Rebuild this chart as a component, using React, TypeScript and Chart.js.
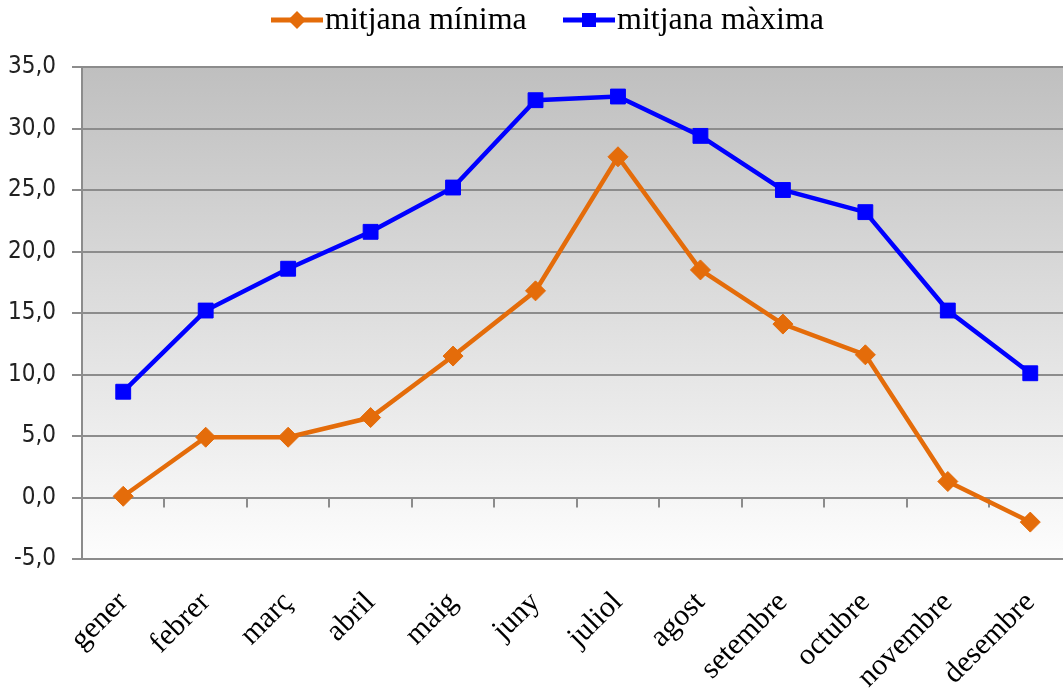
import React, { useEffect, useRef } from "react";
import { Chart, registerables } from "chart.js";

Chart.register(...registerables);

const months = ["gener", "febrer", "març", "abril", "maig", "juny", "juliol", "agost", "setembre", "octubre", "novembre", "desembre"];
const minValues = [0.1, 4.9, 4.9, 6.5, 11.5, 16.8, 27.7, 18.5, 14.1, 11.6, 1.3, -2.0];
const maxValues = [8.6, 15.2, 18.6, 21.6, 25.2, 32.3, 32.6, 29.4, 25.0, 23.2, 15.2, 10.1];
const seriesNames = ["mitjana mínima", "mitjana màxima"];
const seriesColors = ["#E46C0A", "#0000FF"];
const yMin = -5;
const yMax = 35;
const yStep = 5;

const bgPlugin = {
  id: "bgGradient",
  beforeDraw(chart: any) {
    const { ctx, chartArea } = chart;
    const g = ctx.createLinearGradient(0, chartArea.top, 0, chartArea.bottom);
    g.addColorStop(0, "#bfbfbf");
    g.addColorStop(1, "#fdfdfd");
    ctx.save();
    ctx.fillStyle = g;
    ctx.fillRect(chartArea.left, chartArea.top, chartArea.right - chartArea.left, chartArea.bottom - chartArea.top);
    ctx.restore();
  },
  beforeDatasetsDraw(chart: any) {
    const { ctx } = chart;
    const x = chart.scales.x;
    const y = chart.scales.y;
    const y0 = y.getPixelForValue(0);
    ctx.save();
    ctx.strokeStyle = "#8c8c8c";
    ctx.lineWidth = 2;
    for (let i = 1; i < months.length; i++) {
      const px = (x.getPixelForValue(i - 1) + x.getPixelForValue(i)) / 2;
      ctx.beginPath();
      ctx.moveTo(Math.round(px), y0);
      ctx.lineTo(Math.round(px), y0 + 10);
      ctx.stroke();
    }
    ctx.restore();
  },
  afterDraw(chart: any) {
    const { ctx } = chart;
    const starts = [271, 563];
    const yc = 20;
    ctx.save();
    chart.data.datasets.forEach((ds: any, i: number) => {
      const sx = starts[i];
      ctx.strokeStyle = seriesColors[i];
      ctx.lineWidth = 5;
      ctx.beginPath();
      ctx.moveTo(sx, yc);
      ctx.lineTo(sx + 52, yc);
      ctx.stroke();
      const cx = sx + 26;
      ctx.fillStyle = seriesColors[i];
      ctx.beginPath();
      if (i === 0) {
        ctx.moveTo(cx - 9, yc);
        ctx.lineTo(cx, yc - 9);
        ctx.lineTo(cx + 9, yc);
        ctx.lineTo(cx, yc + 9);
        ctx.closePath();
      } else {
        ctx.rect(cx - 7, yc - 7, 14, 14);
      }
      ctx.fill();
      ctx.fillStyle = "#000";
      ctx.font = "32px 'Liberation Serif', 'Times New Roman', serif";
      ctx.textBaseline = "middle";
      ctx.textAlign = "left";
      ctx.fillText(ds.label, sx + 54, yc + 1);
    });
    ctx.restore();
  },
};

export default function App() {
  const ref = useRef<HTMLCanvasElement>(null);
  useEffect(() => {
    if (!ref.current) return;
    const chart = new Chart(ref.current, {
      type: "line",
      data: {
        labels: months,
        datasets: [
          {
            label: seriesNames[0],
            data: minValues,
            borderColor: seriesColors[0],
            backgroundColor: seriesColors[0],
            borderWidth: 4.5,
            pointStyle: "rectRot",
            pointRadius: 10,
            pointHoverRadius: 10,
            pointBorderWidth: 1,
            tension: 0,
          },
          {
            label: seriesNames[1],
            data: maxValues,
            borderColor: seriesColors[1],
            backgroundColor: seriesColors[1],
            borderWidth: 4.5,
            pointStyle: "rect",
            pointRadius: 10.5,
            pointHoverRadius: 10.5,
            pointBorderWidth: 1,
            tension: 0,
          },
        ],
      },
      options: {
        responsive: false,
        animation: false,
        devicePixelRatio: 1,
        layout: { padding: { top: 67, left: 0, right: 0, bottom: 0 } },
        plugins: {
          legend: { display: false },
          tooltip: { enabled: false },
        },
        scales: {
          x: {
            offset: true,
            grid: { display: false, drawTicks: false },
            border: { display: true, color: "#8c8c8c", width: 2 },
            ticks: {
              autoSkip: false,
              maxRotation: 45,
              minRotation: 45,
              padding: 26,
              color: "#000",
              font: { family: "'Liberation Serif', 'Times New Roman', serif", size: 30 },
            },
            afterFit(scale: any) {
              scale.height = 131;
              scale.paddingLeft = 0;
              scale.paddingRight = 0;
            },
          },
          y: {
            min: yMin,
            max: yMax,
            ticks: {
              stepSize: yStep,
              padding: 16,
              color: "#222",
              font: { family: "'DejaVu Sans Condensed', 'DejaVu Sans', sans-serif", size: 24 },
              callback: (v: any) => Number(v).toFixed(1).replace(".", ","),
            },
            grid: { color: "#8c8c8c", lineWidth: 2, tickLength: 10 },
            border: { display: true, color: "#8c8c8c", width: 2 },
            afterFit(scale: any) {
              scale.width = 82;
              scale.paddingTop = 0;
              scale.paddingBottom = 0;
            },
          },
        },
      },
      plugins: [bgPlugin],
    });
    return () => chart.destroy();
  }, []);
  return (
    <div style={{ position: "absolute", left: 0, top: 0, width: 1063, height: 690, overflow: "hidden", background: "#fff" }}>
      <canvas ref={ref} width={1083} height={690} style={{ display: "block", width: 1083, height: 690 }} />
    </div>
  );
}
